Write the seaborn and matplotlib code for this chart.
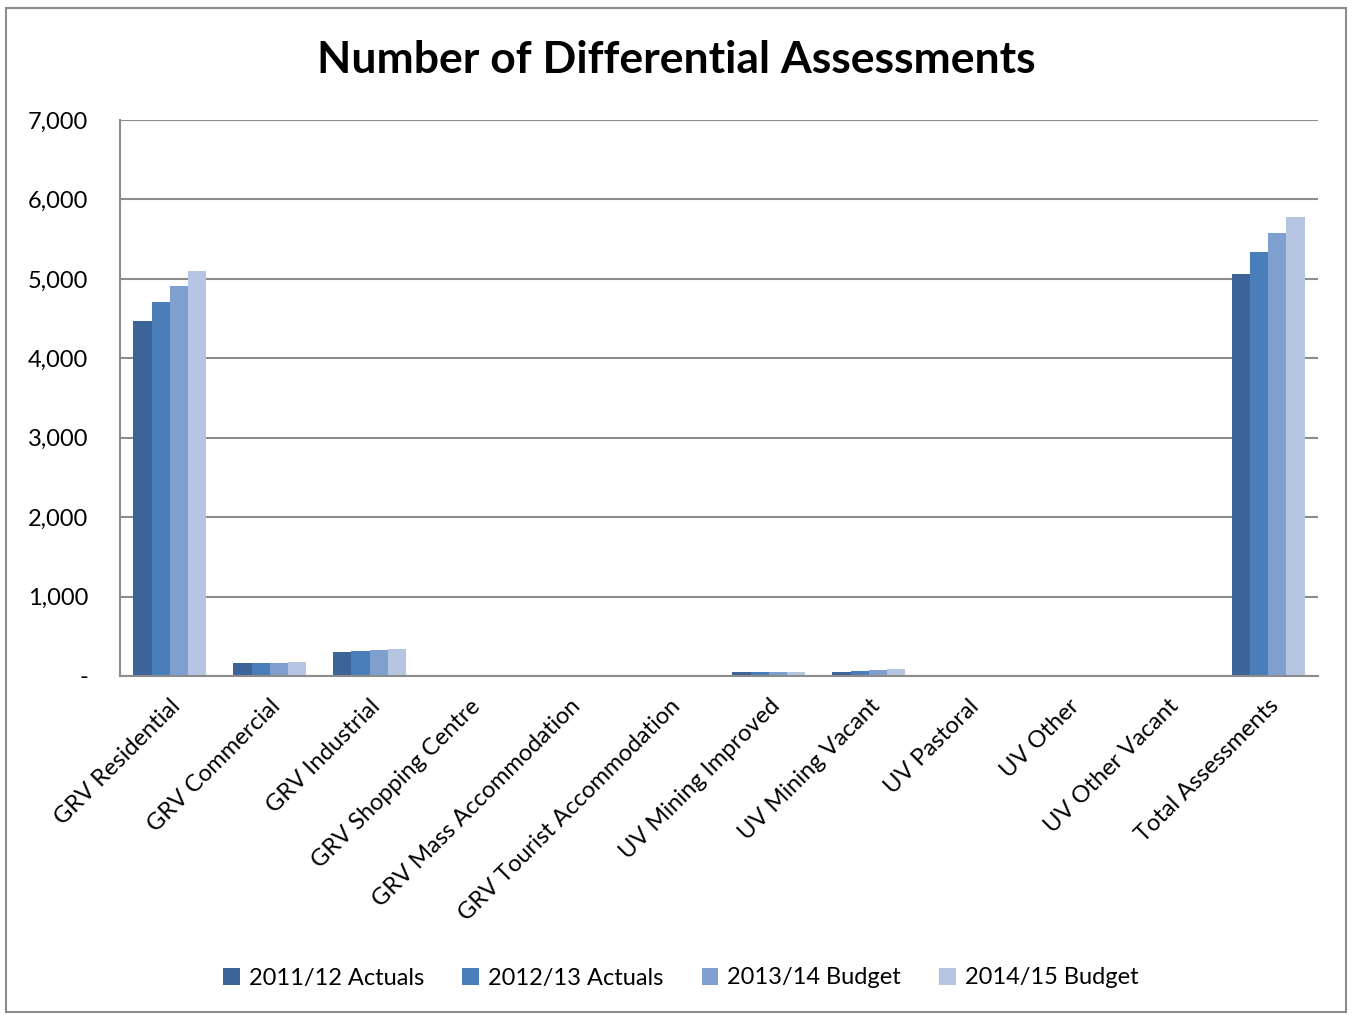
import matplotlib
matplotlib.use("Agg")
import matplotlib.pyplot as plt
import seaborn as sns
import pandas as pd
import numpy as np
from matplotlib.patches import Rectangle

categories = ["GRV Residential", "GRV Commercial", "GRV Industrial", "GRV Shopping Centre",
              "GRV Mass Accommodation", "GRV Tourist Accommodation", "UV Mining Improved",
              "UV Mining Vacant", "UV Pastoral", "UV Other", "UV Other Vacant", "Total Assessments"]
series = ["2011/12 Actuals", "2012/13 Actuals", "2013/14 Budget", "2014/15 Budget"]
v2011 = [4470, 160, 300, 0, 18, 0, 45, 48, 2, 5, 0, 5060]
v2012 = [4710, 160, 315, 0, 18, 0, 50, 65, 2, 5, 0, 5340]
v2013 = [4910, 165, 330, 0, 18, 0, 52, 80, 2, 5, 0, 5580]
v2014 = [5100, 175, 335, 0, 18, 0, 45, 88, 2, 5, 0, 5780]
colors = ["#3C6499", "#4A7EBB", "#7F9FCF", "#B6C5E2"]
yticks = [0, 1000, 2000, 3000, 4000, 5000, 6000, 7000]
ytick_labels = ["-", "1,000", "2,000", "3,000", "4,000", "5,000", "6,000", "7,000"]

rows = []
for s, vals in zip(series, [v2011, v2012, v2013, v2014]):
    for c, v in zip(categories, vals):
        rows.append({"Category": c, "Series": s, "Value": v})
df = pd.DataFrame(rows)

sns.set_style("white")
plt.rcParams["font.family"] = ["Lato", "DejaVu Sans"]
plt.rcParams["text.color"] = "black"
plt.rcParams["xtick.labelcolor"] = "black"
plt.rcParams["ytick.labelcolor"] = "black"

fig = plt.figure(figsize=(13.52, 10.15), dpi=100)
ax = fig.add_axes([120/1352, 1 - 676/1015, 1198/1352, 556/1015])

sns.barplot(data=df, x="Category", y="Value", hue="Series", order=categories,
            hue_order=series, palette=colors, width=0.73, ax=ax, saturation=1,
            edgecolor="none", linewidth=0, zorder=3)

ax.set_xlim(-0.5, len(categories) - 0.5)
ax.set_ylim(0, 7000)
ax.set_yticks(yticks)
ax.set_yticklabels(ytick_labels, fontsize=17, color="black")
ax.yaxis.grid(True, color="#8C8C8C", linewidth=1.5, zorder=0)
ax.set_axisbelow(True)
ax.set_xlabel("")
ax.set_ylabel("")

ax.set_xticks(np.arange(len(categories)))
ax.set_xticklabels(categories, rotation=45, ha="right", rotation_mode="anchor", fontsize=17,
                   color="black")
ax.tick_params(axis="x", which="major", length=0, pad=14)
ax.set_xticks(np.arange(-0.5, len(categories)), minor=True)
ax.tick_params(axis="x", which="minor", length=5.8, width=1.5, color="#8C8C8C", direction="out")
ax.tick_params(axis="y", length=5.8, width=1.5, color="#8C8C8C", direction="out", pad=17)

for sp in ["top", "right"]:
    ax.spines[sp].set_visible(False)
for sp in ["left", "bottom"]:
    ax.spines[sp].set_color("#8C8C8C")
    ax.spines[sp].set_linewidth(1.5)
    ax.spines[sp].set_zorder(4)

fig.suptitle("Number of Differential Assessments", fontsize=32, fontweight="bold",
             y=1 - 60/1015, va="center", color="black")

handles, labels = ax.get_legend_handles_labels()
if ax.legend_:
    ax.legend_.remove()
fig.legend(handles, labels, loc="center", bbox_to_anchor=(681/1352, 1 - 978/1015), ncol=4,
           frameon=False, fontsize=17, handlelength=0.7, handleheight=0.7,
           handletextpad=0.4, columnspacing=1.6, labelcolor="black")

fig.patches.append(Rectangle((6/1352, 3/1015), 1340/1352, 1004/1015, transform=fig.transFigure,
                             fill=False, edgecolor="#8C8C8C", linewidth=1.5))

fig.savefig("out.png", dpi=100, facecolor="white")
